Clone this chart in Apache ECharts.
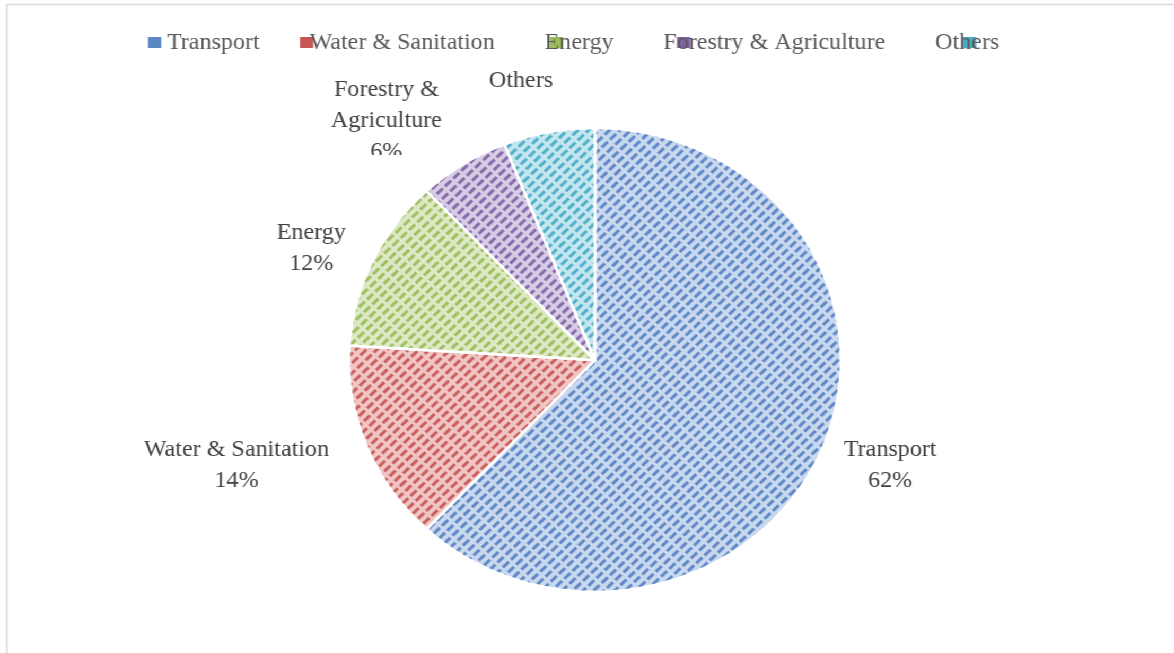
<!DOCTYPE html>
<html>
<head>
<meta charset="utf-8">
<script src="https://cdn.jsdelivr.net/npm/echarts@6/dist/echarts.min.js"></script>
<style>
  html, body { margin: 0; padding: 0; background: #ffffff; overflow: hidden; }
  #wrap { width: 1174px; height: 653px; overflow: hidden; }
  /* the drawing is laid out slightly narrower, then widened to fill the frame */
  #chart { width: 1107px; height: 653px; transform: scaleX(1.0605); transform-origin: 0 0; }
</style>
</head>
<body>
<div id="wrap"><div id="chart"></div></div>
<script>
// Share of projects by sector (%)
const categories = ['Transport', 'Water & Sanitation', 'Energy', 'Forestry & Agriculture', 'Others'];
const shares = [62, 14, 12, 6, 6];
// label text: name on its own lines, then the percentage
const labelNames = ['Transport', 'Water & Sanitation', 'Energy', 'Forestry &\nAgriculture', 'Others'];
const showPercent = [true, true, true, true, false];

// colours: solid swatch, light slice fill, dashed hatch
const swatchColors = ['#5b87c4', '#c65653', '#9bbb59', '#8064a2', '#4bacc6'];
const fillColors = ['#c8d8ef', '#f0c5c4', '#dde9c4', '#d6cce4', '#c4e6f0'];
const hatchColors = ['#6189c6', '#c9605d', '#9fc062', '#876cab', '#52b1ca'];

const SX = 1.0605;
const font = 'Liberation Serif, Times New Roman, serif';

// legend swatch positions (left edges) and label nudges
const swatchLeft = [148, 300, 550, 677, 963];
const labelShift = [[14, 20], [-30, 20], [-20, -13], [-15, -43], [9, -51]];

const chart = echarts.init(document.getElementById('chart'), null, { renderer: 'canvas' });

const pieData = categories.map((name, i) => ({
  name: name,
  value: shares[i],
  itemStyle: {
    color: fillColors[i],
    decal: {
      symbol: 'rect',
      symbolSize: 1,
      color: hatchColors[i],
      dashArrayX: [[8, 3]],
      dashArrayY: [2.5, 3.5],
      rotation: -Math.PI / 4
    }
  }
}));

const swatchLegends = categories.map((name, i) => ({
  data: [{ name: name, itemStyle: { color: swatchColors[i], decal: 'none', borderWidth: 0 } }],
  left: swatchLeft[i] / SX,
  top: 37,
  padding: 0,
  icon: 'rect',
  itemWidth: 12.5,
  itemHeight: 11,
  itemStyle: { borderWidth: 0 },
  selectedMode: false,
  formatter: () => '',
  textStyle: { fontSize: 1 },
  z: 5
}));

const option = {
  backgroundColor: '#ffffff',
  animation: false,
  aria: { enabled: false },
  legend: [
    ...swatchLegends,
    {
      data: categories,
      left: 152.5,
      top: 31,
      padding: 0,
      icon: 'none',
      itemWidth: 0,
      itemHeight: 12,
      itemGap: 42,
      selectedMode: false,
      textStyle: { fontFamily: font, fontSize: 22.7, lineHeight: 24, color: '#595959' },
      z: 6
    }
  ],
  graphic: [
    {
      type: 'rect',
      shape: { x: 7 / SX, y: 4.5, width: 3000, height: 3000 },
      style: { fill: 'none', stroke: '#d9d9d9', lineWidth: 1.6 },
      silent: true,
      z: 0
    },
    {
      // plot area edge trims the lowest label line
      type: 'rect',
      shape: { x: 340, y: 155, width: 60, height: 18 },
      style: { fill: '#ffffff' },
      silent: true,
      zlevel: 1,
      z: 20
    }
  ],
  series: [{
    type: 'pie',
    center: [561, 360],
    radius: 232,
    startAngle: 90,
    clockwise: true,
    avoidLabelOverlap: false,
    itemStyle: { borderColor: '#ffffff', borderWidth: 2.5 },
    label: {
      show: true,
      position: 'outside',
      distanceToLabelLine: 5,
      formatter: (p) => {
        const lines = labelNames[p.dataIndex].split('\n');
        if (showPercent[p.dataIndex]) lines.push(p.percent + '%');
        return lines.map(s => '{c|' + s + '}').join('\n');
      },
      rich: {
        c: { align: 'center', fontFamily: font, fontSize: 22.7, lineHeight: 31, color: '#404040' }
      }
    },
    labelLine: { show: false, length: 0, length2: 0 },
    labelLayout: (params) => ({ dx: labelShift[params.dataIndex][0], dy: labelShift[params.dataIndex][1] }),
    emphasis: { disabled: true },
    data: pieData
  }]
};

chart.setOption(option);
</script>
</body>
</html>
